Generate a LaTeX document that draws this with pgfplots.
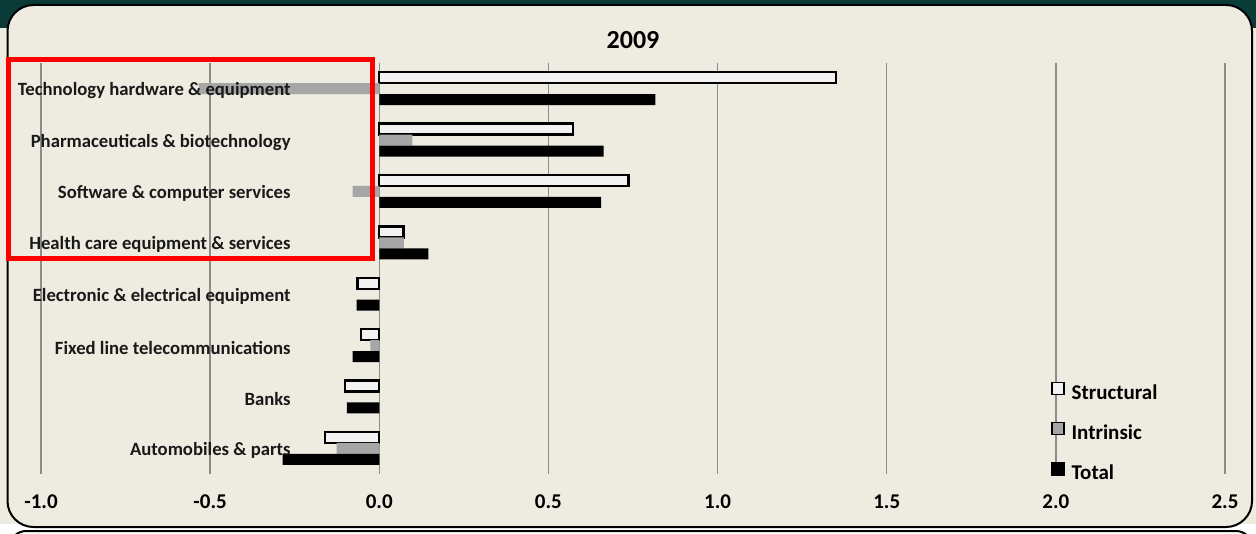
\documentclass[border=0pt]{standalone}
\usepackage{pgfplots}
\pgfplotsset{compat=1.18}
\usepackage{fontspec}
\setmainfont{Carlito}
\definecolor{bg}{HTML}{EEEBE0}
\definecolor{teal}{HTML}{0B3B37}
\definecolor{structfill}{HTML}{F2F2F2}
\definecolor{intrfill}{HTML}{A6A6A6}
\definecolor{gridc}{HTML}{8C8C8C}
\pgfplotsset{
  commonaxis/.style={
    at={(20.5pt,-237pt)}, anchor=south west,
    scale only axis, width=592pt, height=205.5pt,
    xmin=-1, xmax=2.5, ymin=-0.5, ymax=7.5, y dir=reverse,
    axis line style={draw=none}, major tick length=0pt,
  }
}
\begin{document}
\begin{tikzpicture}
\useasboundingbox (0pt,0pt) rectangle (628pt,-267pt);
\fill[bg] (0pt,0pt) rectangle (628pt,-267pt);
\fill[teal] (0pt,0pt) rectangle (628pt,-14pt);
\fill[white] (0pt,-262pt) rectangle (628pt,-267pt);
\draw[black, line width=1pt] (5pt,-272pt) [rounded corners=8pt] -- (5pt,-265.5pt) -- (626pt,-265.5pt) [sharp corners] -- (626pt,-272pt);
\draw[black, line width=1pt, fill=bg, rounded corners=13pt] (3.75pt,-2.5pt) rectangle (626pt,-263.5pt);
\begin{axis}[
  commonaxis,
  xbar, bar width=0.214,
  xtick={-1,-0.5,0,0.5,1,1.5,2,2.5},
  xticklabels={-1.0,-0.5,0.0,0.5,1.0,1.5,2.0,2.5},
  ytick=\empty,
  xmajorgrids, major grid style={draw=gridc, line width=0.75pt},
  xticklabel style={font=\bfseries\fontsize{10.5}{12}\selectfont, yshift=-7pt},
  title={2009},
  title style={font=\bfseries\fontsize{13}{15}\selectfont, at={(0.5,1)}, anchor=south, inner sep=0pt, yshift=1pt},
  legend style={at={(0.8528,0.226)}, anchor=north west, draw=none, fill=none, inner sep=0pt, row sep=9.2pt, column sep=3.5pt, font=\bfseries\fontsize{10.5}{12}\selectfont, nodes={inner sep=0pt, text height=7.5pt, text depth=2pt}},
  legend cell align=left,
  legend image code/.code={\draw[#1,/tikz/.cd,line width=0.75pt] (0pt,-0.2pt) rectangle (6pt,5.8pt);},
]
\addplot[fill=structfill, draw=black, line width=1.2pt, bar shift=-0.214] coordinates {
(1.350,0) (0.572,1) (0.737,2) (0.072,3) (-0.065,4) (-0.054,5) (-0.101,6) (-0.161,7)};
\addlegendentry{Structural}
\addplot[fill=intrfill, draw=none, bar shift=0] coordinates {
(-0.534,0) (0.098,1) (-0.079,2) (0.073,3) (0,4) (-0.026,5) (0,6) (-0.126,7)};
\addlegendentry{Intrinsic}
\addplot[fill=black, draw=none, bar shift=0.214] coordinates {
(0.816,0) (0.663,1) (0.656,2) (0.145,3) (-0.067,4) (-0.079,5) (-0.096,6) (-0.286,7)};
\addlegendentry{Total}
\end{axis}
\begin{axis}[
  commonaxis,
  xtick=\empty,
  ytick={0,1,2,3,4,5,6,7},
  yticklabels={Technology hardware \& equipment,Pharmaceuticals \& biotechnology,Software \& computer services,Health care equipment \& services,Electronic \& electrical equipment,Fixed line telecommunications,Banks,Automobiles \& parts},
  yticklabel style={font=\bfseries\fontsize{9.35}{11}\selectfont, text=black!90, anchor=east, inner sep=0pt, xshift=125pt, yshift=-1pt},
]
\end{axis}
\draw[red, line width=2.5pt] (4.25pt,-30pt) rectangle (186pt,-129pt);
\end{tikzpicture}
\end{document}
